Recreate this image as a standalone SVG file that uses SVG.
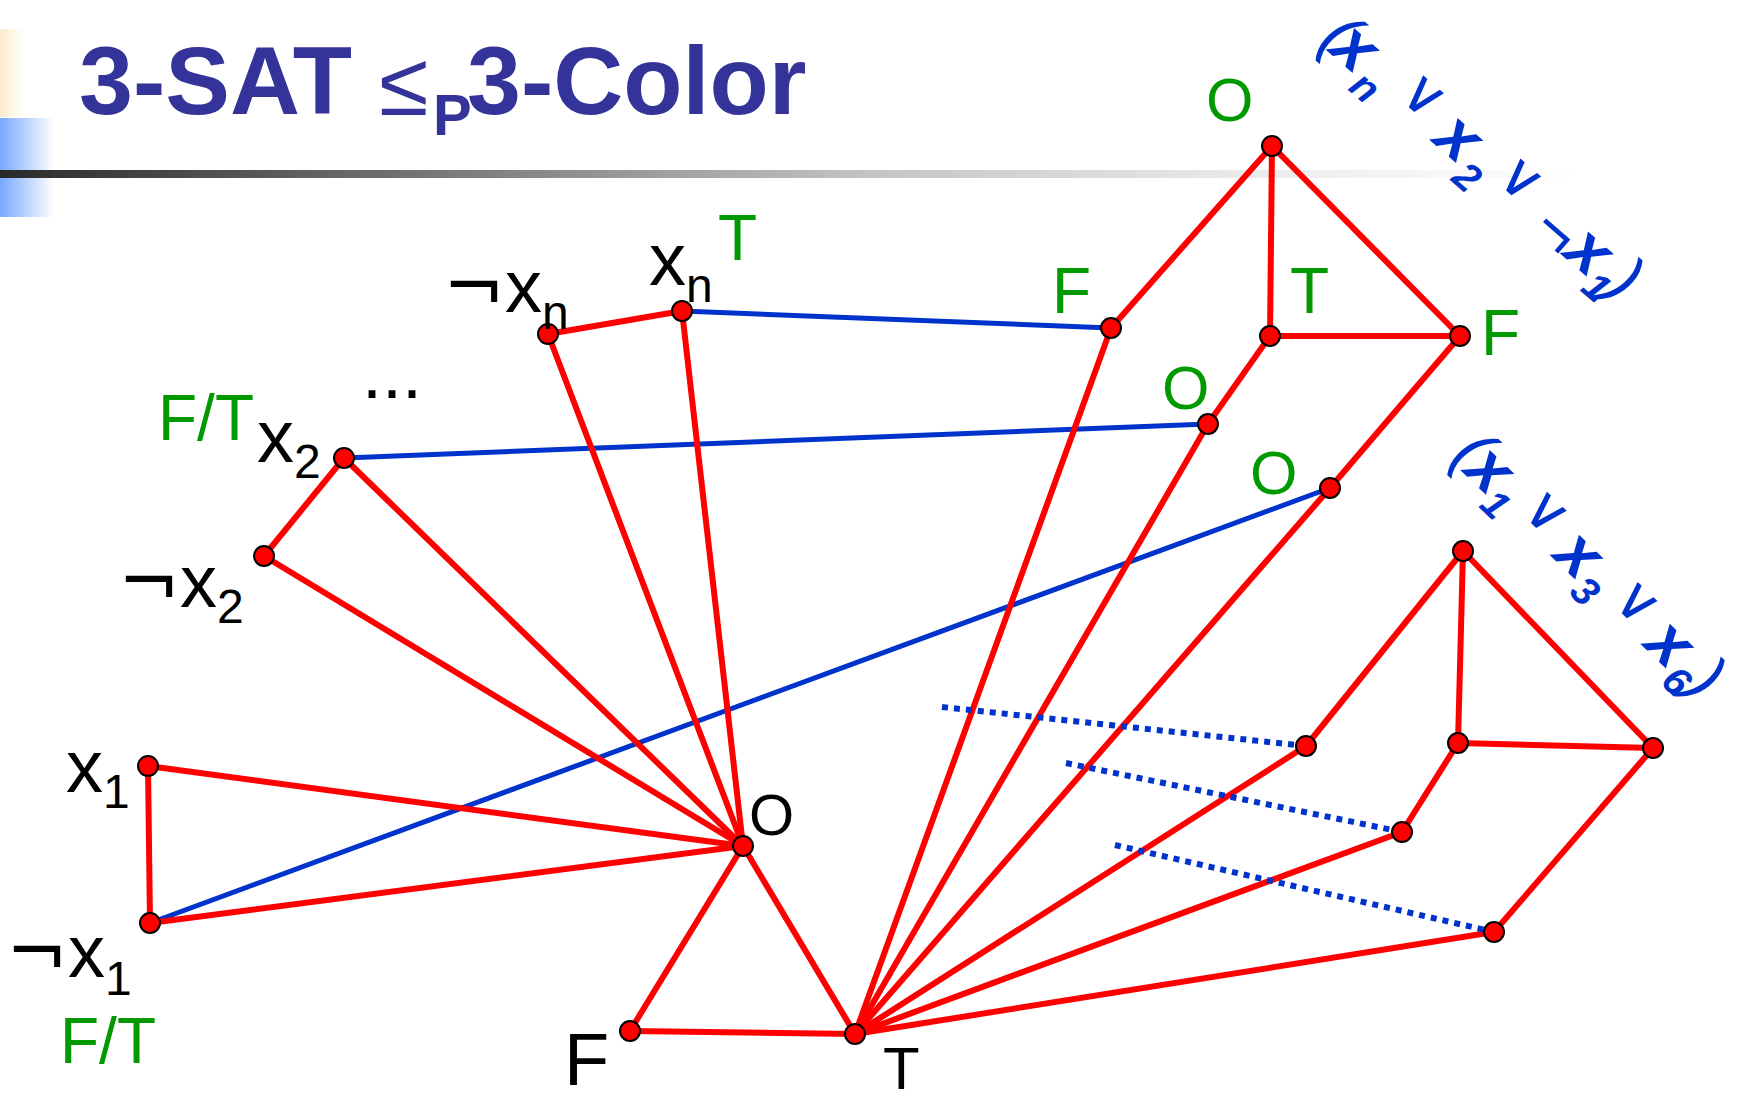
<svg xmlns="http://www.w3.org/2000/svg" width="1739" height="1102" viewBox="0 0 1739 1102">
<defs>
<linearGradient id="gBeige" x1="0" y1="0" x2="1" y2="0"><stop offset="0" stop-color="#fde9cc"/><stop offset="1" stop-color="#ffffff"/></linearGradient>
<linearGradient id="gBlue" x1="0" y1="0" x2="1" y2="0"><stop offset="0" stop-color="#78a8ff"/><stop offset="1" stop-color="#ffffff"/></linearGradient>
<linearGradient id="gLine" x1="0" y1="0" x2="1" y2="0"><stop offset="0" stop-color="#2a2a2a"/><stop offset="0.55" stop-color="#c4c4c4"/><stop offset="0.8" stop-color="#ececec"/><stop offset="1" stop-color="#ffffff"/></linearGradient>
<style>
.red{stroke:#ff0000;stroke-width:6;stroke-linecap:round;fill:none}
.blue{stroke:#0033cc;stroke-width:5;fill:none}
.dot{stroke:#0033cc;stroke-width:6;stroke-dasharray:6 6;fill:none}
.node circle{fill:#ff0000;stroke:#000;stroke-width:2}
text{font-family:"Liberation Sans",Arial,sans-serif}
.lbl{font-size:74px;fill:#000}
.neg{font-family:"DejaVu Sans",sans-serif}
.sub{font-size:48px}
.grn{font-size:64px;fill:#009900}
.go{font-size:61px;fill:#009900}
.cl{fill:#0033cc;text-anchor:middle}
.cx{font-size:66px;font-weight:bold;font-style:italic}
.cs{font-size:40px;font-weight:bold;font-style:italic}
.co{font-size:58px;font-family:"DejaVu Sans",sans-serif}
.cp{font-size:66px;font-style:italic}
.cn{font-size:66px}
.title{fill:#333399;font-weight:bold;font-size:97px}
</style>
</defs>
<rect width="1739" height="1102" fill="#ffffff"/>
<g id="header">
<rect x="0" y="29" width="23" height="88" fill="url(#gBeige)"/>
<rect x="0" y="118" width="54" height="99" fill="url(#gBlue)"/>
<rect x="0" y="170" width="1580" height="8" fill="url(#gLine)"/>
<text class="title" x="79" y="114">3-SAT</text>
<text x="379" y="115" font-size="90" fill="#333399">≤</text>
<text x="433" y="135" font-size="58" font-weight="bold" fill="#333399">P</text>
<text class="title" x="467" y="114">3-Color</text>
</g>
<g id="connectors">
<line class="blue" x1="682" y1="311" x2="1111" y2="328"/>
<line class="blue" x1="344" y1="458" x2="1208" y2="424"/>
<line class="blue" x1="150" y1="923" x2="1330" y2="488"/>
<line class="red" x1="548" y1="334" x2="682" y2="311"/>
<line class="red" x1="548" y1="334" x2="743" y2="846"/>
<line class="red" x1="682" y1="311" x2="743" y2="846"/>
<line class="red" x1="344" y1="458" x2="264" y2="556"/>
<line class="red" x1="344" y1="458" x2="743" y2="846"/>
<line class="red" x1="264" y1="556" x2="743" y2="846"/>
<line class="red" x1="148" y1="766" x2="150" y2="923"/>
<line class="red" x1="148" y1="766" x2="743" y2="846"/>
<line class="red" x1="150" y1="923" x2="743" y2="846"/>
<line class="red" x1="743" y1="846" x2="630" y2="1031"/>
<line class="red" x1="743" y1="846" x2="855" y2="1034"/>
<line class="red" x1="630" y1="1031" x2="855" y2="1034"/>
<line class="red" x1="855" y1="1034" x2="1111" y2="328"/>
<line class="red" x1="855" y1="1034" x2="1208" y2="424"/>
<line class="red" x1="855" y1="1034" x2="1330" y2="488"/>
<line class="red" x1="1272" y1="146" x2="1111" y2="328"/>
<line class="red" x1="1272" y1="146" x2="1270" y2="336"/>
<line class="red" x1="1272" y1="146" x2="1460" y2="336"/>
<line class="red" x1="1270" y1="336" x2="1460" y2="336"/>
<line class="red" x1="1270" y1="336" x2="1208" y2="424"/>
<line class="red" x1="1460" y1="336" x2="1330" y2="488"/>
<line class="red" x1="855" y1="1034" x2="1306" y2="746"/>
<line class="red" x1="855" y1="1034" x2="1402" y2="832"/>
<line class="red" x1="855" y1="1034" x2="1494" y2="932"/>
<line class="red" x1="1463" y1="551" x2="1306" y2="746"/>
<line class="red" x1="1463" y1="551" x2="1458" y2="743"/>
<line class="red" x1="1463" y1="551" x2="1653" y2="748"/>
<line class="red" x1="1458" y1="743" x2="1653" y2="748"/>
<line class="red" x1="1458" y1="743" x2="1402" y2="832"/>
<line class="red" x1="1653" y1="748" x2="1494" y2="932"/>
<line class="dot" x1="942" y1="707" x2="1306" y2="746"/>
<line class="dot" x1="1066" y1="763" x2="1402" y2="832"/>
<line class="dot" x1="1115" y1="845" x2="1494" y2="932"/>
</g>
<g id="n-notxn" class="node"><circle cx="548" cy="334" r="10"/><text class="lbl" x="443" y="312"><tspan class="neg">¬</tspan>x<tspan class="sub" dy="17">n</tspan></text></g>
<g id="n-xn" class="node"><circle cx="682" cy="311" r="10"/><text class="lbl" x="649" y="285">x<tspan class="sub" dy="17">n</tspan></text><text class="grn" x="718" y="260">T</text></g>
<g id="n-x2" class="node"><circle cx="344" cy="458" r="10"/><text class="lbl" x="257" y="462">x<tspan class="sub" dy="16">2</tspan></text><text class="grn" x="158" y="440">F/T</text></g>
<g id="n-notx2" class="node"><circle cx="264" cy="556" r="10"/><text class="lbl" x="118" y="607"><tspan class="neg">¬</tspan>x<tspan class="sub" dy="16">2</tspan></text></g>
<g id="ellipsis"><text x="362" y="398" font-size="72" fill="#000">...</text></g>
<g id="n-x1" class="node"><circle cx="148" cy="766" r="10"/><text class="lbl" x="66" y="792">x<tspan class="sub" dy="16">1</tspan></text></g>
<g id="n-notx1" class="node"><circle cx="150" cy="923" r="10"/><text class="lbl" x="6" y="977"><tspan class="neg">¬</tspan>x<tspan class="sub" dy="18">1</tspan></text><text class="grn" x="60" y="1063">F/T</text></g>
<g id="n-O" class="node"><circle cx="743" cy="846" r="10"/><text x="749" y="835" font-size="58" fill="#000">O</text></g>
<g id="n-F" class="node"><circle cx="630" cy="1031" r="10"/><text x="564" y="1085" font-size="74" fill="#000">F</text></g>
<g id="n-T" class="node"><circle cx="855" cy="1034" r="10"/><text x="883" y="1089" font-size="60" fill="#000">T</text></g>
<g id="c1-top" class="node"><circle cx="1272" cy="146" r="10"/><text class="go" x="1206" y="121">O</text></g>
<g id="c1-a" class="node"><circle cx="1111" cy="328" r="10"/><text class="grn" x="1052" y="313">F</text></g>
<g id="c1-t" class="node"><circle cx="1270" cy="336" r="10"/><text class="grn" x="1290" y="313">T</text></g>
<g id="c1-f" class="node"><circle cx="1460" cy="336" r="10"/><text class="grn" x="1481" y="355">F</text></g>
<g id="c1-b" class="node"><circle cx="1208" cy="424" r="10"/><text class="go" x="1162" y="409">O</text></g>
<g id="c1-c" class="node"><circle cx="1330" cy="488" r="10"/><text class="go" x="1250" y="494">O</text></g>
<g id="c2-top" class="node"><circle cx="1463" cy="551" r="10"/></g>
<g id="c2-a" class="node"><circle cx="1306" cy="746" r="10"/></g>
<g id="c2-t" class="node"><circle cx="1458" cy="743" r="10"/></g>
<g id="c2-f" class="node"><circle cx="1653" cy="748" r="10"/></g>
<g id="c2-b" class="node"><circle cx="1402" cy="832" r="10"/></g>
<g id="c2-c" class="node"><circle cx="1494" cy="932" r="10"/></g>
<g id="clause1" class="cl" transform="translate(1337,37) rotate(41)">
<text class="cp" x="0" y="18">(</text>
<text class="cx" x="21" y="17">x</text>
<text class="cs" x="54" y="33">n</text>
<text class="co" x="104" y="6">∨</text>
<text class="cx" x="158" y="17">x</text>
<text class="cs" x="190" y="34">2</text>
<text class="co" x="232" y="5">∨</text>
<text class="cn" x="293" y="24">¬</text>
<text class="cx" x="331" y="17">x</text>
<text class="cs" x="360" y="32">1</text>
<text class="cp" x="377" y="16">)</text>
</g>
<g id="clause2" class="cl" transform="translate(1470,453) rotate(44)">
<text class="cp" x="0" y="18">(</text>
<text class="cx" x="26" y="19">x</text>
<text class="cs" x="54" y="33">1</text>
<text class="co" x="96" y="8">∨</text>
<text class="cx" x="149" y="18">x</text>
<text class="cs" x="179" y="33">3</text>
<text class="co" x="224" y="10">∨</text>
<text class="cx" x="276" y="19">x</text>
<text class="cs" x="307" y="34">6</text>
<text class="cp" x="327" y="20">)</text>
</g>
</svg>
